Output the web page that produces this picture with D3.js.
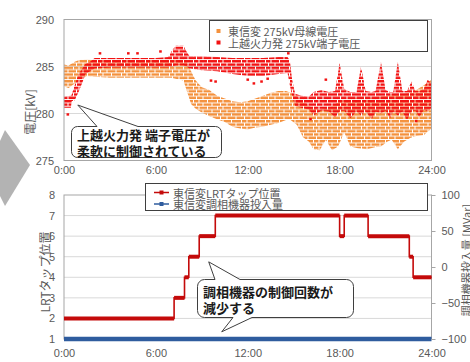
<!DOCTYPE html>
<html><head><meta charset="utf-8">
<script src="https://cdn.jsdelivr.net/npm/d3@7"></script>
<style>
body{margin:0;background:#fff;}
svg{display:block;font-family:"Noto Sans CJK JP","Noto Sans",sans-serif;}
</style></head><body>
<svg id="chart" width="470" height="362"></svg>
<script>
// ---- shared time axis ----
const timeTicks = [0, 6, 12, 18, 24];
const timeTickLabels = ["0:00", "6:00", "12:00", "18:00", "24:00"];

// ---- upper panel: 275 kV voltages ----
const voltTicks = [275, 280, 285, 290];
const voltTitle = "電圧[kV]";
const busName = "東信変 275kV母線電圧";
const genName = "上越火力発 275kV端子電圧";
// [hour, lowest kV, highest kV] of the dense point cloud
const busBand = [
  [0.0, 282.9, 285.2], [0.3, 282.7, 285.1], [0.7, 283.2, 285.5], [1.0, 283.6, 285.7],
  [1.5, 284.0, 285.8], [2.0, 283.9, 285.7], [3.0, 283.8, 285.7], [4.0, 283.8, 285.7],
  [5.0, 283.8, 285.7], [6.0, 283.8, 285.7], [7.0, 283.8, 285.8], [7.8, 283.5, 285.8],
  [8.0, 282.5, 285.6], [8.3, 281.0, 284.5], [8.6, 280.5, 283.5], [9.0, 280.1, 282.8],
  [9.5, 279.7, 282.5], [10.0, 279.4, 281.9], [10.5, 279.1, 281.6], [11.0, 278.6, 281.3],
  [11.5, 278.4, 281.2], [12.0, 278.3, 281.3], [12.5, 278.5, 281.6], [13.0, 278.6, 281.9],
  [13.5, 278.8, 282.2], [14.0, 279.0, 282.4], [14.5, 279.3, 282.4], [14.8, 279.3, 282.2],
  [15.2, 278.8, 281.8], [15.6, 277.5, 281.3], [16.0, 277.0, 280.8], [16.3, 276.2, 280.6],
  [16.7, 276.1, 280.4], [17.1, 277.2, 280.6], [17.5, 276.1, 280.8], [17.9, 276.5, 281.2],
  [18.3, 278.0, 281.5], [18.7, 276.5, 281.6], [19.2, 276.3, 281.7], [19.8, 276.2, 281.7],
  [20.3, 276.4, 281.7], [20.7, 276.5, 281.8], [21.1, 277.0, 281.9], [21.4, 277.2, 282.0],
  [21.8, 276.2, 282.1], [22.2, 277.0, 282.1], [22.6, 277.4, 282.2], [23.0, 277.6, 282.5],
  [23.5, 277.7, 283.0], [24.0, 278.4, 283.6]
];
const genBand = [
  [0.0, 280.6, 281.8], [0.45, 280.6, 281.9], [0.5, 281.3, 282.0], [0.7, 281.4, 283.0],
  [0.95, 282.3, 284.2], [1.2, 283.3, 284.8], [1.4, 284.2, 285.3], [1.7, 284.5, 285.5],
  [2.0, 284.8, 285.9], [3.0, 284.9, 285.9], [4.0, 284.9, 285.9], [5.0, 284.9, 285.9],
  [6.0, 284.9, 285.9], [6.8, 284.9, 286.0], [7.1, 285.0, 286.8], [7.3, 285.1, 287.2],
  [7.8, 285.1, 287.2], [8.0, 285.0, 286.6], [8.2, 284.8, 286.1], [9.0, 284.6, 286.1],
  [10.0, 284.5, 286.0], [11.0, 284.2, 285.9], [12.0, 284.0, 285.9], [13.0, 284.0, 285.9],
  [14.0, 284.2, 286.0], [14.6, 284.3, 286.0], [14.75, 283.0, 285.6], [14.9, 281.8, 283.6],
  [15.1, 280.8, 282.1], [15.5, 280.6, 281.9], [16.0, 280.4, 281.8], [16.3, 279.8, 282.3],
  [16.8, 280.3, 282.5], [17.3, 280.2, 282.3], [17.7, 279.6, 282.4], [18.0, 280.2, 285.4],
  [18.3, 280.3, 282.6], [18.7, 279.5, 282.3], [19.1, 280.2, 282.3], [19.4, 279.8, 285.0],
  [19.7, 280.2, 282.4], [20.1, 279.4, 282.3], [20.35, 280.2, 282.4], [20.7, 280.0, 285.5],
  [21.0, 280.3, 282.5], [21.3, 279.5, 282.3], [21.5, 280.2, 282.3], [21.8, 279.8, 285.5],
  [22.1, 280.2, 282.4], [22.4, 279.3, 282.4], [22.7, 280.2, 283.4], [22.95, 280.3, 282.4],
  [23.2, 279.6, 282.4], [23.5, 280.4, 282.6], [23.75, 280.2, 283.6], [24.0, 280.6, 283.2]
];
// isolated readings outside the dense cloud [hour, kV]
const genStray = [
  [0.25, 279.9], [2.35, 286.4], [4.2, 286.4], [4.8, 286.4], [6.3, 286.6],
  [9.6, 283.5], [9.9, 283.4], [12.0, 283.6], [12.4, 283.2], [12.9, 283.4],
  [13.3, 283.7], [14.65, 286.4], [17.1, 283.6], [16.1, 279.4], [23.0, 279.2]
];

// ---- lower panel: LRT tap and reactive compensation ----
const tapTicks = [1, 2, 3, 4, 5, 6, 7, 8];
const mvarTicks = [-100, -50, 0, 50, 100];
const tapTitle = "LRTタップ位置";
const mvarTitle = "調相機器投入量 [MVar]";
const tapName = "東信変LRTタップ位置";
const mvarName = "東信変調相機器投入量";
const tapHours     = [0, 7.19, 7.87, 8.15, 8.83, 9.88, 18.0, 18.3, 19.86, 22.55, 22.8, 24];
const tapPositions = [2, 3,    4,    5,    6,    7,    6,    7,    6,     5,     4,    4];
const mvarHours = [0, 24];
const mvarValues = [-100, -100];

// ---- annotations ----
const note1 = ["上越火力発 端子電圧が", "柔軟に制御されている"];
const note2 = ["調相機器の制御回数が", "減少する"];

// ---- styling ----
const C = {
  bus: "#f4913d", gen: "#f21212", tap: "#c40a0a", mvar: "#2f5c9e",
  text: "#595959", grid: "#d9d9d9", frame: "#a6a6a6", box: "#3f3f3f", arrow: "#b3b3b3"
};
const svg = d3.select("#chart");
const defs = svg.append("defs");

// chevron at the left edge
svg.append("path").attr("d", "M0,141 L5,130 L30,165 L5,206 L0,196 Z").attr("fill", C.arrow);

const L = 64, R = 431.5;
const x = d3.scaleLinear().domain([0, 24]).range([L, R]);
const yV = d3.scaleLinear().domain([275, 290]).range([160.5, 19.5]);
const yT = d3.scaleLinear().domain([1, 8]).range([339, 195]);
const yM = d3.scaleLinear().domain([-100, 100]).range([339, 195]);

function styleAxis(g, size) {
  g.select(".domain").remove();
  g.selectAll("text").attr("fill", C.text).style("font-size", size + "px");
  g.selectAll("line").attr("stroke", C.frame);
}

// ===== upper panel =====
const upper = svg.append("g");
upper.append("rect").attr("x", L).attr("y", yV(290)).attr("width", R - L).attr("height", yV(275) - yV(290))
  .attr("fill", "#fff");
upper.selectAll("line.grid").data([280, 285]).join("line").attr("class", "grid")
  .attr("x1", L).attr("x2", R).attr("y1", d => yV(d)).attr("y2", d => yV(d))
  .attr("stroke", C.grid).attr("stroke-width", 1);

defs.append("clipPath").attr("id", "clipTop").append("rect")
  .attr("x", L).attr("y", yV(290)).attr("width", R - L).attr("height", yV(275) - yV(290));

// quantised readings fall on horizontal rows of overlapping point markers;
// the cloud is filled with two staggered rows of marker runs
const rowPitch = 3.33, rowHeight = 2.4;
const runsA = [[0, 9], [10, 14.5], [15.5, 23]];
const runsB = [[0, 3.5], [4.5, 12], [13, 18.5], [19.5, 24]];
function rowPattern(id, color) {
  const p = defs.append("pattern").attr("id", id).attr("patternUnits", "userSpaceOnUse")
    .attr("x", L).attr("y", yV(290) + 0.6).attr("width", 24).attr("height", rowPitch * 2);
  [runsA, runsB].forEach((runs, r) => runs.forEach(([a, b]) =>
    p.append("rect").attr("x", a).attr("y", r * rowPitch).attr("width", b - a)
      .attr("height", rowHeight).attr("fill", color)));
}
rowPattern("rowsBus", C.bus);
rowPattern("rowsGen", C.gen);

const band = d3.area().x(d => x(d[0])).y0(d => yV(d[1])).y1(d => yV(d[2]));
const cloud = upper.append("g").attr("clip-path", "url(#clipTop)");
cloud.append("path").datum(busBand).attr("d", band).attr("fill", "url(#rowsBus)");
cloud.append("path").datum(genBand).attr("d", band).attr("fill", "url(#rowsGen)");
cloud.selectAll("rect.stray").data(genStray).join("rect").attr("class", "stray")
  .attr("x", d => x(d[0]) - 1.3).attr("y", d => yV(d[1]) - 1.2).attr("width", 2.6).attr("height", 2.4)
  .attr("fill", C.gen);

upper.append("rect").attr("x", L).attr("y", yV(290)).attr("width", R - L).attr("height", yV(275) - yV(290))
  .attr("fill", "none").attr("stroke", C.frame).attr("stroke-width", 1);

upper.append("g").attr("transform", `translate(${L},0)`)
  .call(d3.axisLeft(yV).tickValues(voltTicks).tickSize(0).tickPadding(10))
  .call(g => styleAxis(g, 11));
upper.append("g").attr("transform", `translate(0,${yV(275)})`)
  .call(d3.axisBottom(x).tickValues(timeTicks).tickFormat((d, i) => timeTickLabels[i]).tickSize(0).tickPadding(6))
  .call(g => styleAxis(g, 11));
upper.append("text").attr("transform", `translate(29,${(yV(290) + yV(275)) / 2 + 22}) rotate(-90)`)
  .attr("text-anchor", "middle").attr("dominant-baseline", "central")
  .attr("fill", C.text).style("font-size", "12px").text(voltTitle);

// legend (upper)
const lg1 = upper.append("g");
lg1.append("rect").attr("x", 209.5).attr("y", 20.5).attr("width", 218).attr("height", 31)
  .attr("fill", "#fff").attr("stroke", C.box).attr("stroke-width", 1);
[[busName, C.bus], [genName, C.gen]].forEach(([name, col], i) => {
  const cy = 31 + i * 11.5;
  lg1.append("rect").attr("x", 216.5).attr("y", cy - 2).attr("width", 4).attr("height", 4).attr("fill", col);
  lg1.append("text").attr("x", 228).attr("y", cy).attr("dominant-baseline", "central")
    .attr("fill", C.text).style("font-size", "11px").text(name);
});

// ===== lower panel =====
const lower = svg.append("g");
lower.selectAll("line.grid").data([2, 3, 4, 5, 6, 7]).join("line").attr("class", "grid")
  .attr("x1", L).attr("x2", R).attr("y1", d => yT(d)).attr("y2", d => yT(d))
  .attr("stroke", C.grid).attr("stroke-width", 1);
lower.append("rect").attr("x", L).attr("y", yT(8)).attr("width", R - L).attr("height", yT(1) - yT(8))
  .attr("fill", "none").attr("stroke", C.frame).attr("stroke-width", 1);

// tap position: thin risers, heavy level segments
const tapPts = tapHours.map((h, i) => [h, tapPositions[i]]);
lower.append("path").datum(tapPts)
  .attr("d", d3.line().x(d => x(d[0])).y(d => yT(d[1])).curve(d3.curveStepAfter))
  .attr("fill", "none").attr("stroke", C.tap).attr("stroke-width", 1.6);
lower.selectAll("line.level").data(tapPts.slice(0, -1)).join("line").attr("class", "level")
  .attr("x1", d => x(d[0])).attr("x2", (d, i) => x(tapPts[i + 1][0]))
  .attr("y1", d => yT(d[1])).attr("y2", d => yT(d[1]))
  .attr("stroke", C.tap).attr("stroke-width", 4);

// reactive compensation on the right scale
const mvarPts = mvarHours.map((h, i) => [h, mvarValues[i]]);
lower.append("path").datum(mvarPts)
  .attr("d", d3.line().x(d => x(d[0])).y(d => yM(d[1])))
  .attr("fill", "none").attr("stroke", C.mvar).attr("stroke-width", 4.5);

lower.append("g").attr("transform", `translate(${L},0)`)
  .call(d3.axisLeft(yT).tickValues(tapTicks).tickFormat(d3.format("d")).tickSize(0).tickPadding(9))
  .call(g => styleAxis(g, 11));
lower.append("g").attr("transform", `translate(${R},0)`)
  .call(d3.axisRight(yM).tickValues(mvarTicks).tickSize(4).tickPadding(6))
  .call(g => styleAxis(g, 11));
lower.append("g").attr("transform", `translate(0,${yT(1)})`)
  .call(d3.axisBottom(x).tickValues(timeTicks).tickFormat((d, i) => timeTickLabels[i]).tickSize(0).tickPadding(10))
  .call(g => styleAxis(g, 11));
lower.append("text").attr("transform", `translate(44,${(yT(8) + yT(1)) / 2 + 5}) rotate(-90)`)
  .attr("text-anchor", "middle").attr("dominant-baseline", "central")
  .attr("fill", C.text).style("font-size", "12px").text(tapTitle);
lower.append("text").attr("transform", `translate(466,${(yT(8) + yT(1)) / 2 - 7}) rotate(-90)`)
  .attr("text-anchor", "middle").attr("dominant-baseline", "central")
  .attr("fill", C.text).style("font-size", "11px").text(mvarTitle);

// legend (lower)
const lg2 = lower.append("g");
lg2.append("rect").attr("x", 145.5).attr("y", 183.5).attr("width", 282).attr("height", 27)
  .attr("fill", "#fff").attr("stroke", C.box).attr("stroke-width", 1);
[[tapName, C.tap], [mvarName, C.mvar]].forEach(([name, col], i) => {
  const cy = 192.5 + i * 11.5;
  lg2.append("line").attr("x1", 154).attr("x2", 169).attr("y1", cy).attr("y2", cy)
    .attr("stroke", col).attr("stroke-width", 1.5);
  lg2.append("rect").attr("x", 159.5).attr("y", cy - 2).attr("width", 4).attr("height", 4).attr("fill", col);
  lg2.append("text").attr("x", 173).attr("y", cy).attr("dominant-baseline", "central")
    .attr("fill", C.text).style("font-size", "11px").text(name);
});

// ===== callouts =====
function callout(bx, by, bw, bh, r, pointers) {
  // pointers: {side:"top"|"bottom", a, b, tip:[x,y]}
  const topP = pointers.find(p => p.side === "top");
  const botP = pointers.find(p => p.side === "bottom");
  let d = `M${bx + r},${by}`;
  if (topP) d += ` L${topP.a},${by} L${topP.tip[0]},${topP.tip[1]} L${topP.b},${by}`;
  d += ` L${bx + bw - r},${by} A${r},${r} 0 0 1 ${bx + bw},${by + r}`;
  d += ` L${bx + bw},${by + bh - r} A${r},${r} 0 0 1 ${bx + bw - r},${by + bh}`;
  if (botP) d += ` L${botP.a},${by + bh} L${botP.tip[0]},${botP.tip[1]} L${botP.b},${by + bh}`;
  d += ` L${bx + r},${by + bh} A${r},${r} 0 0 1 ${bx},${by + bh - r}`;
  d += ` L${bx},${by + r} A${r},${r} 0 0 1 ${bx + r},${by} Z`;
  return d;
}
const ann = svg.append("g");
ann.append("path")
  .attr("d", callout(71.5, 126.5, 150, 31, 6,
    [{ side: "top", a: 97, b: 138, tip: [x(0.9), yV(280.9)] }]))
  .attr("fill", "#fff").attr("stroke", C.box).attr("stroke-width", 1);
note1.forEach((t, i) => ann.append("text").attr("x", 77).attr("y", 140 + i * 15.5)
  .attr("fill", "#1a1a1a").style("font-size", "13px").style("font-weight", "bold").text(t));

ann.append("path")
  .attr("d", callout(197.5, 279.5, 156, 38, 7,
    [{ side: "top", a: 215, b: 240, tip: [x(9.45), yT(4.75)] },
     { side: "bottom", a: 252, b: 233, tip: [x(10.3), yT(1.35)] }]))
  .attr("fill", "#fff").attr("stroke", C.box).attr("stroke-width", 1);
note2.forEach((t, i) => ann.append("text").attr("x", 203).attr("y", 297 + i * 15.5)
  .attr("fill", "#1a1a1a").style("font-size", "13px").style("font-weight", "bold").text(t));
</script>
</body></html>
